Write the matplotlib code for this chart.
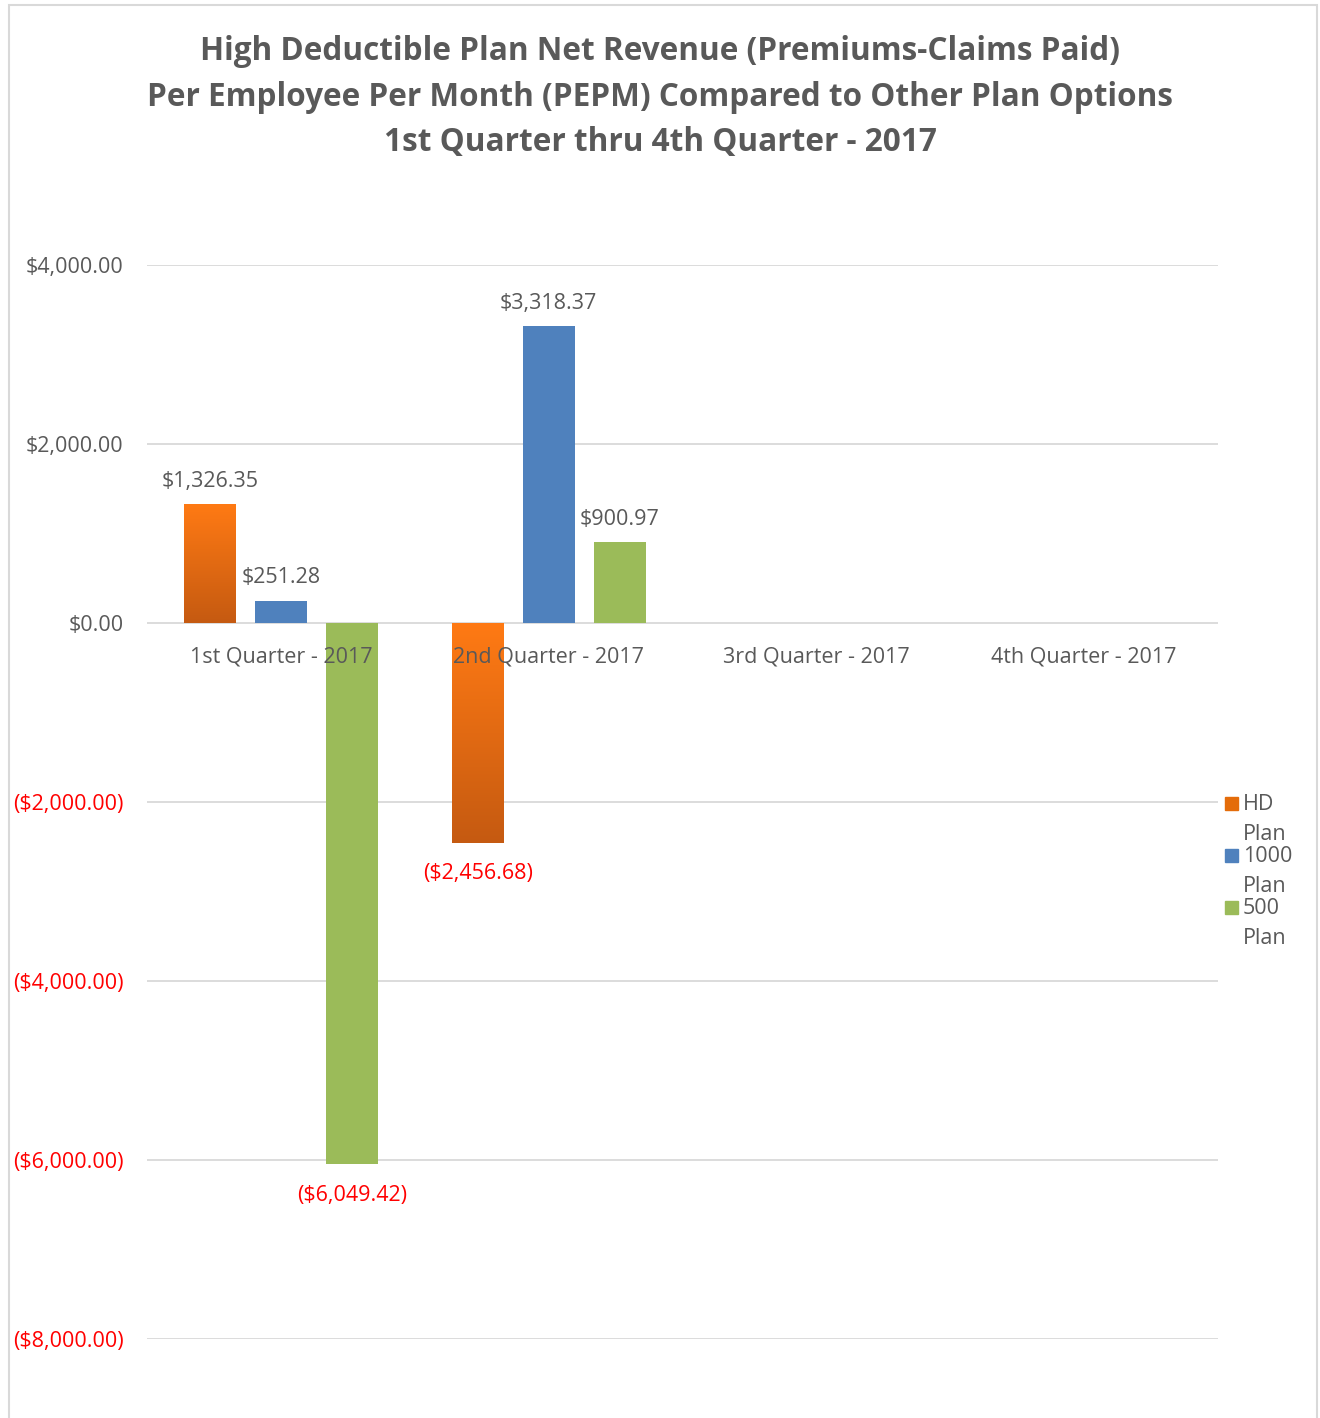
import numpy as np
import matplotlib.pyplot as plt
from matplotlib.patches import Rectangle
from matplotlib.colors import LinearSegmentedColormap

plt.rcParams['font.family'] = ['Open Sans', 'DejaVu Sans']

# --- data ---
quarters = ['1st Quarter - 2017', '2nd Quarter - 2017', '3rd Quarter - 2017', '4th Quarter - 2017']
series_names = [['HD', 'Plan'], ['1000', 'Plan'], ['500', 'Plan']]
hd_plan = [1326.35, -2456.68, np.nan, np.nan]
plan_1000 = [251.28, 3318.37, np.nan, np.nan]
plan_500 = [-6049.42, 900.97, np.nan, np.nan]
yticks = [4000, 2000, 0, -2000, -4000, -6000, -8000]

title_lines = ['High Deductible Plan Net Revenue (Premiums-Claims Paid)',
               'Per Employee Per Month (PEPM) Compared to Other Plan Options',
               '1st Quarter thru 4th Quarter - 2017']

grey = '#595959'
red = '#FF0000'
colors = ['#E46C0A', '#4F81BD', '#9BBB59']
orange_grad = LinearSegmentedColormap.from_list('og', ['#C55A11', '#FF7A14'])

W, H = 1320, 1418
fig = plt.figure(figsize=(W / 100, H / 100), dpi=100)
ax = fig.add_axes([147 / W, 1 - 1339 / H, (1218 - 147) / W, (1339 - 265) / H])

x = np.arange(len(quarters))
width = 0.194
step = 0.265
fs = 15.5

all_series = [hd_plan, plan_1000, plan_500]
for i, vals in enumerate(all_series):
    pos = x + (i - 1) * step
    bars = ax.bar(pos, vals, width, color=colors[i], zorder=3)
    for b, v in zip(bars, vals):
        if np.isnan(v):
            continue
        if i == 0:
            # gradient fill for the HD plan bars
            b.set_facecolor('none')
            grad = np.linspace(0, 1, 256).reshape(-1, 1)
            x0 = b.get_x()
            ext = [x0, x0 + width, min(0, v), max(0, v)]
            im = ax.imshow(grad, cmap=orange_grad, extent=ext, origin='lower',
                           aspect='auto', zorder=3)
            im.set_clip_path(b)
        label = '${:,.2f}'.format(abs(v))
        if v >= 0:
            ax.annotate(label, (b.get_x() + width / 2, v), xytext=(0, 23),
                        textcoords='offset pixels', ha='center', va='center',
                        fontsize=fs, color=grey, zorder=5)
        else:
            ax.annotate('(' + label + ')', (b.get_x() + width / 2, v), xytext=(0, -31),
                        textcoords='offset pixels', ha='center', va='center',
                        fontsize=fs, color=red, zorder=5)

ax.set_xlim(-0.5, len(quarters) - 0.5)
ax.set_ylim(-8000, 4000)
ax.set_yticks(yticks)
ylabels = []
for t in yticks:
    s = '${:,.2f}'.format(abs(t))
    ylabels.append('(' + s + ')' if t < 0 else s)
ax.set_yticklabels(ylabels, fontsize=fs)
for lab, t in zip(ax.get_yticklabels(), yticks):
    lab.set_color(red if t < 0 else grey)
ax.tick_params(axis='y', length=0, pad=17)
ax.set_xticks([])
for xi, q in zip(x, quarters):
    ax.annotate(q, (xi, 0), xytext=(0, -34), textcoords='offset pixels',
                ha='center', va='center', fontsize=fs, color=grey, zorder=6)
ax.grid(axis='y', color='#D9D9D9', linewidth=1.3, zorder=0)
for s in ax.spines.values():
    s.set_visible(False)
ax.set_axisbelow(True)

for k, line in enumerate(title_lines):
    fig.text(0.5, 1 - (52 + 45.5 * k) / H, line, ha='center', va='center',
             fontsize=22.7, fontweight='bold', color=grey)

# legend, drawn by hand
for i, name in enumerate(series_names):
    yc = 803 + i * 52
    fig.patches.append(Rectangle((1225 / W, 1 - (yc + 7) / H), 13 / W, 13 / H,
                                 transform=fig.transFigure, color=colors[i]))
    for j, word in enumerate(name):
        fig.text(1243 / W, 1 - (yc + 2 + 29 * j) / H, word, ha='left', va='center',
                 fontsize=fs, color=grey)

# chart border
fig.patches.append(Rectangle((9 / W, -0.01), (1317 - 9) / W, 1 - 5 / H + 0.01,
                             transform=fig.transFigure, fill=False,
                             edgecolor='#D9D9D9', linewidth=1.5))

fig.savefig('out.png', dpi=100)
